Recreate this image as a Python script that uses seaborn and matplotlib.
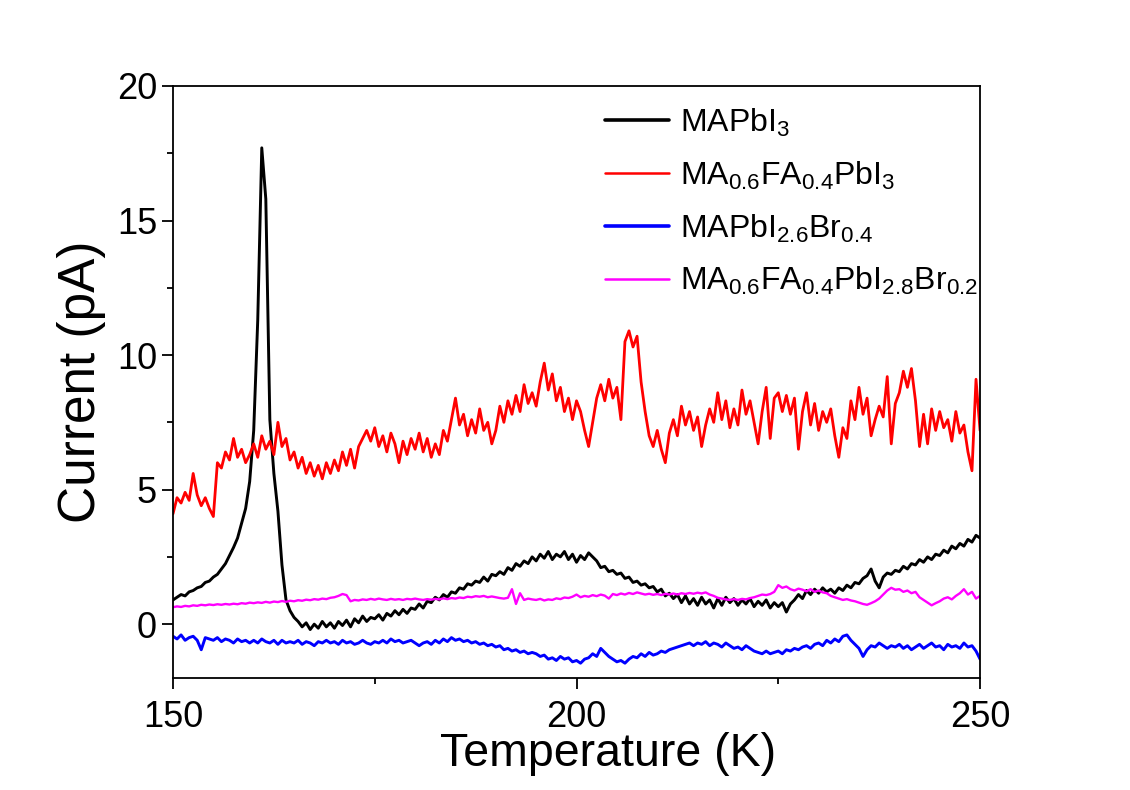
import numpy as np
import pandas as pd
import seaborn as sns
import matplotlib
matplotlib.use('Agg')
import matplotlib.pyplot as plt
from matplotlib.ticker import MultipleLocator

# temperature grid (K), one reading every 0.5 K
temperature = np.arange(150, 250.01, 0.5)

# current (pA), 10 values per row = 5 K
mapbi3 = [
    0.9, 1.0, 1.1, 1.05, 1.2, 1.25, 1.35, 1.4, 1.55, 1.6,
    1.75, 1.85, 2.05, 2.25, 2.55, 2.85, 3.2, 3.75, 4.3, 5.3,
    7.2, 11.3, 17.7, 15.8, 7.6, 5.6, 4.2, 2.2, 0.9, 0.5,
    0.25, 0.1, -0.1, 0.05, -0.2, 0.0, -0.15, 0.1, -0.1, 0.05,
    -0.15, 0.1, -0.05, 0.15, -0.1, 0.2, 0.05, 0.3, 0.1, 0.25,
    0.2, 0.35, 0.15, 0.4, 0.3, 0.5, 0.35, 0.55, 0.4, 0.6,
    0.55, 0.75, 0.6, 0.85, 0.8, 1.0, 0.9, 1.1, 1.0, 1.2,
    1.15, 1.35, 1.3, 1.5, 1.45, 1.6, 1.55, 1.75, 1.6, 1.85,
    1.8, 1.95, 1.85, 2.1, 2.0, 2.25, 2.15, 2.35, 2.25, 2.5,
    2.35, 2.6, 2.45, 2.7, 2.4, 2.6, 2.5, 2.7, 2.4, 2.6,
    2.3, 2.55, 2.4, 2.65, 2.5, 2.35, 2.1, 2.15, 1.95, 2.0,
    1.85, 1.9, 1.7, 1.75, 1.55, 1.6, 1.45, 1.5, 1.35, 1.4,
    1.2, 1.3, 1.05, 1.15, 0.95, 1.1, 0.8, 1.05, 0.75, 0.95,
    0.7, 1.0, 0.75, 0.9, 0.6, 0.95, 0.7, 1.0, 0.8, 0.95,
    0.7, 0.9, 0.75, 0.95, 0.65, 0.85, 0.7, 0.9, 0.6, 0.8,
    0.65, 0.8, 0.45, 0.75, 0.9, 1.1, 0.95, 1.25, 1.1, 1.3,
    1.15, 1.35, 1.2, 1.3, 1.15, 1.35, 1.25, 1.45, 1.35, 1.55,
    1.5, 1.7, 1.8, 2.05, 1.6, 1.35, 1.75, 1.9, 1.85, 2.0,
    1.95, 2.15, 2.05, 2.25, 2.2, 2.4, 2.3, 2.5, 2.4, 2.6,
    2.55, 2.75, 2.65, 2.9, 2.8, 3.0, 2.9, 3.15, 3.05, 3.3,
    3.2,
]

ma_fa_pbi3 = [
    4.1, 4.7, 4.5, 4.9, 4.6, 5.6, 4.8, 4.4, 4.7, 4.3,
    4.0, 6.0, 5.8, 6.4, 6.1, 6.9, 6.2, 6.5, 6.0, 6.3,
    6.7, 6.2, 7.0, 6.5, 6.8, 6.3, 7.5, 6.6, 6.9, 6.1,
    6.4, 5.8, 6.2, 5.6, 6.0, 5.5, 5.9, 5.4, 6.0, 5.6,
    6.1, 5.7, 6.4, 5.9, 6.5, 5.8, 6.6, 6.9, 7.2, 6.8,
    7.3, 6.6, 7.0, 6.4, 7.1, 6.7, 6.0, 6.8, 6.3, 6.9,
    6.5, 7.1, 6.4, 6.9, 6.2, 6.7, 6.3, 7.2, 6.8, 7.6,
    8.4, 7.4, 7.8, 7.0, 7.6, 7.1, 8.0, 7.2, 7.5, 6.7,
    7.2, 8.1, 7.5, 8.3, 7.8, 8.5, 7.9, 8.9, 8.2, 8.6,
    8.1, 9.0, 9.7, 8.7, 9.3, 8.3, 8.8, 7.9, 8.4, 7.6,
    8.3, 7.9, 7.2, 6.6, 7.5, 8.4, 8.9, 8.3, 9.1, 8.4,
    8.8, 7.6, 10.5, 10.9, 10.3, 10.7, 9.0, 7.9, 7.0, 6.6,
    7.2, 6.5, 6.0, 7.1, 7.6, 7.0, 8.1, 7.4, 7.9, 7.2,
    7.7, 6.6, 7.4, 8.0, 7.5, 8.6, 7.6, 8.3, 7.3, 8.0,
    7.4, 8.7, 7.8, 8.3, 7.5, 6.7, 7.9, 8.8, 6.9, 8.4,
    8.6, 7.9, 8.5, 7.8, 8.4, 6.5, 7.9, 8.6, 7.4, 8.2,
    7.2, 7.9, 7.5, 8.0, 7.0, 6.2, 7.3, 6.9, 8.3, 7.6,
    8.8, 7.8, 8.4, 7.0, 7.6, 8.1, 7.7, 9.2, 6.7, 8.2,
    8.6, 9.4, 8.8, 9.5, 8.3, 6.6, 7.8, 6.7, 8.0, 7.2,
    7.9, 7.3, 7.6, 6.8, 7.9, 7.1, 7.4, 6.4, 5.7, 9.1,
    7.2,
]

mapbi_br = [
    -0.45, -0.55, -0.4, -0.6, -0.5, -0.45, -0.6, -0.95, -0.5, -0.55,
    -0.6, -0.5, -0.65, -0.55, -0.6, -0.7, -0.55, -0.65, -0.6, -0.7,
    -0.6, -0.7, -0.55, -0.65, -0.7, -0.6, -0.75, -0.6, -0.7, -0.65,
    -0.7, -0.6, -0.75, -0.65, -0.7, -0.8, -0.65, -0.7, -0.6, -0.7,
    -0.65, -0.75, -0.6, -0.7, -0.65, -0.75, -0.7, -0.6, -0.7, -0.75,
    -0.65, -0.7, -0.6, -0.7, -0.55, -0.65, -0.6, -0.7, -0.65, -0.6,
    -0.7, -0.8, -0.7, -0.65, -0.75, -0.6, -0.7, -0.55, -0.65, -0.5,
    -0.6, -0.55, -0.65, -0.6, -0.7, -0.65, -0.75, -0.7, -0.8, -0.75,
    -0.85, -0.8, -0.95, -0.9, -1.0, -0.95, -1.05, -1.0, -1.1, -1.05,
    -1.1, -1.2, -1.15, -1.3, -1.25, -1.35, -1.2, -1.3, -1.25, -1.4,
    -1.35, -1.45, -1.3, -1.25, -1.1, -1.2, -0.9, -1.05, -1.2, -1.3,
    -1.4, -1.35, -1.45, -1.3, -1.2, -1.25, -1.1, -1.2, -1.05, -1.15,
    -1.1, -1.0, -1.05, -0.95, -0.9, -0.85, -0.8, -0.75, -0.7, -0.8,
    -0.7, -0.75, -0.65, -0.8, -0.7, -0.75, -0.85, -0.7, -0.8, -0.9,
    -0.85, -0.95, -0.8, -0.9, -1.0, -1.05, -1.1, -1.0, -1.1, -1.05,
    -1.0, -1.1, -0.95, -1.0, -0.9, -0.95, -0.85, -0.8, -0.9, -0.75,
    -0.7, -0.8, -0.6, -0.7, -0.55, -0.65, -0.45, -0.4, -0.6, -0.75,
    -0.9, -1.2, -0.95, -0.8, -0.85, -0.7, -0.8, -0.9, -0.8, -0.85,
    -0.75, -0.9, -0.8, -0.95, -0.85, -0.75, -0.9, -0.8, -0.7, -0.85,
    -0.8, -0.95, -0.75, -0.85, -0.8, -0.9, -0.7, -0.85, -0.8, -1.0,
    -1.3,
]

ma_fa_pbi_br = [
    0.63, 0.66, 0.64, 0.68, 0.66, 0.7, 0.68, 0.72, 0.7, 0.73,
    0.71, 0.74, 0.72, 0.75, 0.73, 0.76, 0.74, 0.78, 0.76, 0.8,
    0.78, 0.81, 0.79, 0.83, 0.8, 0.84, 0.82, 0.86, 0.83, 0.87,
    0.85, 0.89, 0.87, 0.91, 0.89, 0.93, 0.91, 0.95, 0.93, 0.98,
    1.0, 1.05, 1.12, 1.08, 0.85, 0.9, 0.88, 0.92, 0.9, 0.94,
    0.91, 0.95, 0.92, 0.9, 0.94, 0.91, 0.93, 0.9, 0.94, 0.92,
    0.95, 0.92, 0.9, 0.93, 0.91, 0.94, 0.92, 0.96, 0.93, 0.97,
    0.95, 0.99, 0.97, 1.02, 1.0, 1.04, 1.02, 1.05, 1.0, 1.03,
    1.0, 0.97, 0.95, 0.98, 1.3, 0.75, 1.15, 0.9, 0.95, 0.92,
    0.9, 0.94, 0.88, 0.92, 0.9, 0.96, 0.93, 0.99, 0.97, 1.02,
    1.1, 1.0, 1.05, 1.02, 1.08, 1.04, 1.1, 1.06, 0.95, 1.12,
    1.08, 1.14, 1.1, 1.16, 1.12, 1.18, 1.14, 1.1, 1.13, 1.09,
    1.12, 1.08, 1.13, 1.1, 1.14, 1.1, 1.15, 1.12, 1.16, 1.13,
    1.17, 1.14, 1.18, 1.1, 1.05, 0.98, 0.95, 0.92, 0.9, 0.93,
    0.9, 0.94, 0.92, 0.97, 1.0, 1.05, 1.1, 1.08, 1.12, 1.2,
    1.45, 1.35, 1.4, 1.3, 1.25, 1.32, 1.28, 1.22, 1.3, 1.2,
    1.25, 1.18, 1.15, 1.05, 1.0, 0.95, 0.9, 0.93, 0.88, 0.85,
    0.8, 0.75, 0.72, 0.78, 0.85, 0.95, 1.1, 1.25, 1.35, 1.28,
    1.3, 1.2, 1.25, 1.15, 1.2, 1.0, 0.9, 0.8, 0.7, 0.78,
    0.85, 0.95, 1.0, 0.92, 1.05, 1.15, 1.3, 1.1, 1.2, 0.95,
    1.05,
]

labels = [
    r'MAPbI$_3$',
    r'MA$_{0.6}$FA$_{0.4}$PbI$_3$',
    r'MAPbI$_{2.6}$Br$_{0.4}$',
    r'MA$_{0.6}$FA$_{0.4}$PbI$_{2.8}$Br$_{0.2}$',
]
colors = ['#000000', '#FF0000', '#0000FF', '#FF00FF']
widths = [2.1, 2.0, 2.1, 1.7]

sns.set_style('ticks')
plt.rcParams['font.family'] = ['Liberation Sans', 'DejaVu Sans']
plt.rcParams['mathtext.default'] = 'regular'
for key in ['text.color', 'axes.labelcolor', 'xtick.color', 'ytick.color', 'axes.edgecolor']:
    plt.rcParams[key] = 'black'

frames = []
for lab, vals in zip(labels, [mapbi3, ma_fa_pbi3, mapbi_br, ma_fa_pbi_br]):
    frames.append(pd.DataFrame({'T': temperature, 'I': vals, 'sample': lab}))
df = pd.concat(frames, ignore_index=True)

fig = plt.figure(figsize=(11.3, 7.9), dpi=100)
ax = fig.add_axes([0.1531, 0.1418, 0.7142, 0.7494])

for lab, c, lw in zip(labels, colors, widths):
    sub = df[df['sample'] == lab]
    sns.lineplot(data=sub, x='T', y='I', color=c, linewidth=lw, label=lab,
                 ax=ax, estimator=None, sort=False)

ax.set_xlim(150, 250)
ax.set_ylim(-2, 20)
ax.xaxis.set_major_locator(MultipleLocator(50))
ax.xaxis.set_minor_locator(MultipleLocator(25))
ax.yaxis.set_major_locator(MultipleLocator(5))
ax.yaxis.set_minor_locator(MultipleLocator(2.5))
ax.tick_params(which='major', direction='out', length=8, width=1.3,
               labelsize=26, top=False, right=False)
ax.tick_params(axis='x', which='major', pad=8)
ax.tick_params(which='minor', direction='out', length=4.5, width=1.3,
               top=False, right=False)
for s in ax.spines.values():
    s.set_visible(True)
    s.set_linewidth(1.3)
    s.set_color('black')

ax.set_xlabel('Temperature (K)', fontsize=33.5)
ax.xaxis.set_label_coords(0.539, -0.092)
ax.set_ylabel('Current (pA)', fontsize=37, labelpad=8)

leg = ax.legend(loc='upper left', bbox_to_anchor=(0.535, 0.965), frameon=False,
                fontsize=23, handlelength=2.0, borderpad=0, borderaxespad=0,
                labelspacing=0.65, handletextpad=0.35)
for line, lw in zip(leg.get_lines(), [2.6, 1.8, 2.6, 1.8]):
    line.set_linewidth(lw)

fig.savefig('out.png', dpi=100, facecolor='white')
